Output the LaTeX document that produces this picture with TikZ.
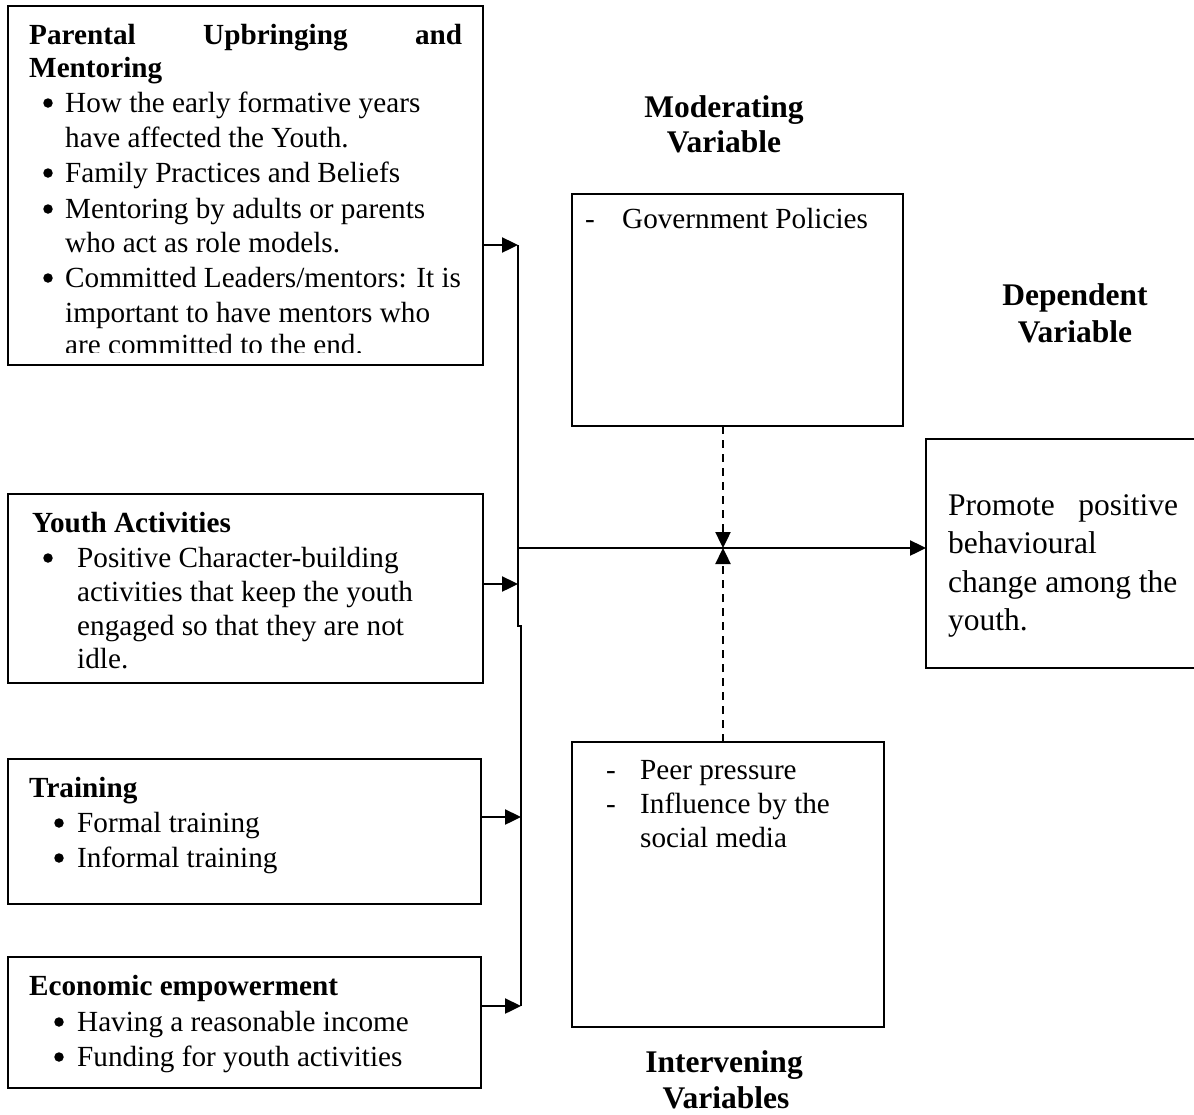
\documentclass[tikz,border=0pt]{standalone}
\usepackage{fontspec}
\setmainfont{Liberation Serif}
\usetikzlibrary{arrows.meta}
\begin{document}
\begin{tikzpicture}[x=1pt,y=-1pt,
  box/.style={draw,line width=2.2pt,inner sep=0pt,outer sep=0pt,anchor=north west},
  nobox/.style={inner sep=0pt,outer sep=0pt,anchor=north west},
  txt/.style={anchor=base west,inner sep=0pt,font=\fontsize{29.2}{35}\selectfont},
  hd/.style={anchor=base west,inner sep=0pt,font=\fontsize{29.2}{35}\selectfont\bfseries},
  big/.style={anchor=base,inner sep=0pt,font=\fontsize{31.5}{38}\selectfont\bfseries},
  dep/.style={anchor=base west,inner sep=0pt,font=\fontsize{31.5}{38}\selectfont},
  dot/.style={circle,fill,draw=none,inner sep=0pt,minimum size=9.5pt},
  conn/.style={line width=2.4pt},
  arr/.style={conn,-{Triangle[length=16pt,width=15pt]}},
  darr/.style={arr,dash pattern=on 8pt off 6pt}]
\useasboundingbox (0,0) rectangle (1194,1114);

% boxes
\node[box,minimum width=475pt,minimum height=359pt] (b1) at (8,6) {};
\node[box,minimum width=475pt,minimum height=189pt] (b2) at (8,494) {};
\node[box,minimum width=473pt,minimum height=145pt] (b3) at (8,759) {};
\node[box,minimum width=473pt,minimum height=131pt] (b4) at (8,957) {};
\node[box,minimum width=331pt,minimum height=232pt] (mod) at (572,194) {};
\node[box,minimum width=312pt,minimum height=285pt] (int) at (572,742) {};
\node[nobox,minimum width=280pt,minimum height=229pt] (dv) at (926,439) {};
\draw[line width=2.2pt] (dv.north east) -- (dv.north west) -- (dv.south west) -- (dv.south east);

% box 1 text
\node[hd] (t1a) at (29,44) {\hbox to 433pt{Parental\hfill Upbringing\hfill and}};
\node[hd] (t1b) at (29,77) {Mentoring};
\node[dot] (u1a) at (48,103) {};
\node[txt] (t1c) at (65,112) {How the early formative years};
\node[txt] (t1d) at (65,147) {have affected the Youth.};
\node[dot] (u1b) at (48,173) {};
\node[txt] (t1e) at (65,182) {Family Practices and Beliefs};
\node[dot] (u1c) at (48,209) {};
\node[txt] (t1f) at (65,218) {Mentoring by adults or parents};
\node[txt] (t1g) at (65,252) {who act as role models.};
\node[dot] (u1d) at (48,278) {};
\node[txt] (t1h) at (65,287) {Committed Leaders/mentors: It is};
\node[txt] (t1i) at (65,322) {important to have mentors who};
\begin{scope}
  \clip (0,0) rectangle (483,352);
  \node[txt] (t1j) at (65,354) {are committed to the end.};
\end{scope}

% box 2 text
\node[hd] (t2a) at (32,532) {Youth Activities};
\node[dot] (u2a) at (48,558) {};
\node[txt] (t2b) at (77,567) {Positive Character-building};
\node[txt] (t2c) at (77,601) {activities that keep the youth};
\node[txt] (t2d) at (77,635) {engaged so that they are not};
\node[txt] (t2e) at (77,668) {idle.};

% box 3 text
\node[hd] (t3a) at (29,797) {Training};
\node[dot] (u3a) at (59,823) {};
\node[txt] (t3b) at (77,832) {Formal training};
\node[dot] (u3b) at (59,858) {};
\node[txt] (t3c) at (77,867) {Informal training};

% box 4 text
\node[hd] (t4a) at (29,995) {Economic empowerment};
\node[dot] (u4a) at (59,1022) {};
\node[txt] (t4b) at (77,1031) {Having a reasonable income};
\node[dot] (u4b) at (59,1057) {};
\node[txt] (t4c) at (77,1066) {Funding for youth activities};

% moderating
\node[big] (hm1) at (724,117) {Moderating};
\node[big] (hm2) at (724,152) {Variable};
\node[txt] (mda) at (585,228) {-};
\node[txt] (mt) at (622,228) {Government Policies};

% intervening
\node[txt] (ida) at (606,779) {-};
\node[txt] (it1) at (640,779) {Peer pressure};
\node[txt] (idb) at (606,813) {-};
\node[txt] (it2) at (640,813) {Influence by the};
\node[txt] (it3) at (640,847) {social media};
\node[big] (hi1) at (724,1072) {Intervening};
\node[big] (hi2) at (726,1108) {Variables};

% dependent
\node[big] (hd1) at (1075,305) {Dependent};
\node[big] (hd2) at (1075,342) {Variable};
\node[dep] (d1) at (948,515) {\hbox to 230pt{Promote\hfill positive}};
\node[dep] (d2) at (948,553) {behavioural};
\node[dep] (d3) at (948,592) {change among the};
\node[dep] (d4) at (948,630) {youth.};

% connectors
\coordinate (j1) at (518,245);
\coordinate (j2) at (518,584);
\coordinate (jt) at (518,626);
\coordinate (jt2) at (521,626);
\coordinate (j3) at (521,817);
\coordinate (j4) at (521,1006);
\coordinate (hub) at (518,548);
\coordinate (xm) at (723,548);

\draw[conn] (j1) -- (jt) -- (jt2) -- (j4);
\draw[arr] (b1.east |- j1) -- (j1);
\draw[arr] (b2.east |- j2) -- (j2);
\draw[arr] (b3.east |- j3) -- (j3);
\draw[arr] (b4.east |- j4) -- (j4);
\draw[arr] (hub) -- (dv.west |- hub);
\draw[darr] (mod.south -| xm) -- (xm);
\draw[darr] (int.north -| xm) -- (xm);
\end{tikzpicture}
\end{document}
